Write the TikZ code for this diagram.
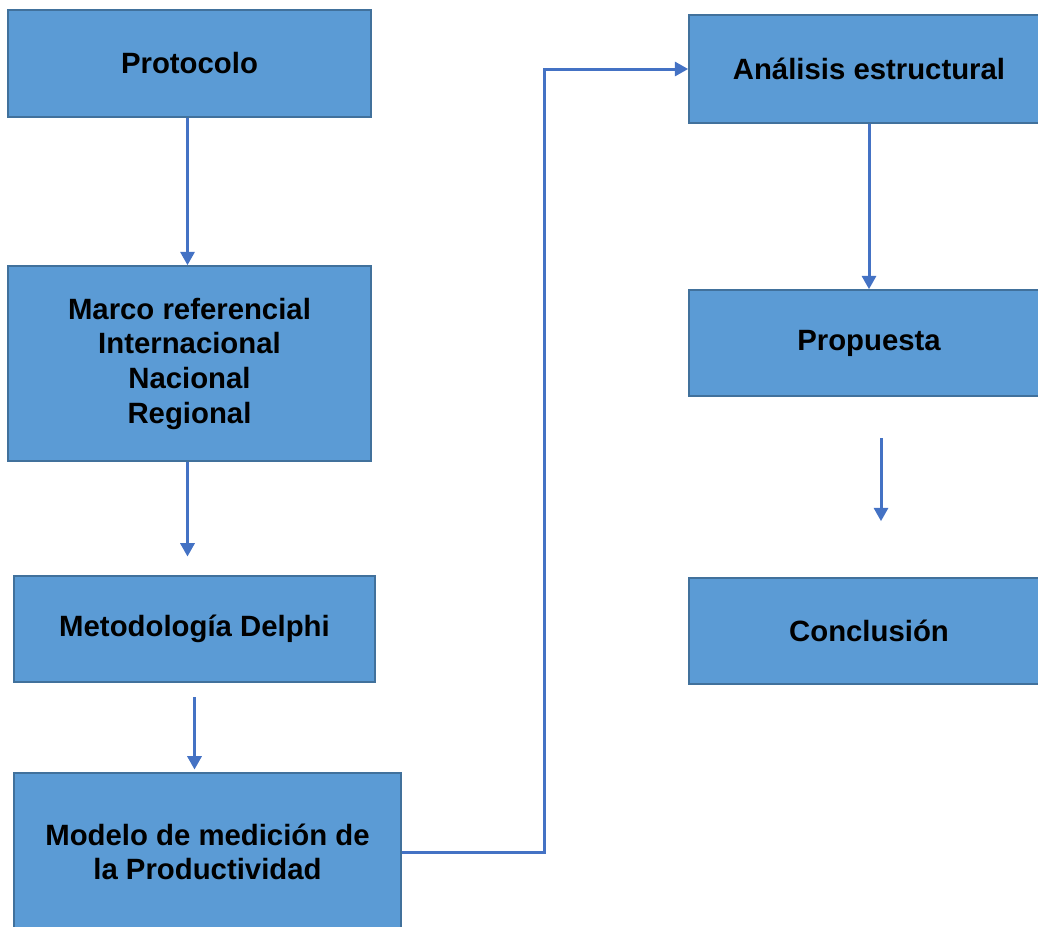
\documentclass[tikz,border=0pt]{standalone}
\usepackage{fontspec}
\setmainfont{Liberation Sans}
\usetikzlibrary{arrows.meta}
\definecolor{relleno}{HTML}{5B9BD5}
\definecolor{borde}{HTML}{41719C}
\definecolor{linea}{HTML}{4472C4}
\tikzset{
  caja/.style={rectangle,draw=borde,fill=relleno,line width=1.2pt,inner sep=0pt,
    align=center,font=\fontsize{22}{26}\selectfont\bfseries},
  flecha/.style={draw=linea,line width=2.25pt,-{Triangle[length=10pt,width=10.5pt]}}
}
\begin{document}
\begin{tikzpicture}[x=0.75pt,y=-0.75pt]
	\useasboundingbox (0,0) rectangle (1038,926);
	\clip (0,0) rectangle (1038,926);
	% columna izquierda
	\node (protocolo)[caja,minimum width=272.25pt,minimum height=80.25pt] at (189.5,63.5) {Protocolo};
	\node (marco)[caja,minimum width=272.25pt,minimum height=146.25pt] at (189.5,363.5) {Marco referencial\\Internacional\\Nacional\\Regional};
	\node (delphi)[caja,minimum width=270.75pt,minimum height=79.5pt] at (194.5,629) {Metodología Delphi};
	\node (modelo)[caja,minimum width=290.25pt,minimum height=118.5pt] at (207.5,852) {Modelo de medición de\\la Productividad};
	% columna derecha
	\node (analisis)[caja,minimum width=270pt,minimum height=81pt] at (869,69) {Análisis estructural};
	\node (propuesta)[caja,minimum width=270pt,minimum height=79.5pt] at (869,343) {Propuesta};
	\node (conclusion)[caja,minimum width=270pt,minimum height=79.5pt] at (869,631) {Conclusión};
	\coordinate (codo) at (544,852);

	\draw[flecha] ([xshift=-1.5pt]protocolo.south) -- ([xshift=-1.5pt]marco.north);
	\draw[flecha,shorten >=14pt] ([xshift=-1.5pt]marco.south) -- ([xshift=-1.5pt]marco.south |- delphi.north);
	\draw[flecha,shorten <=11pt,shorten >=2pt] (delphi.south) -- (delphi.south |- modelo.north);
	\draw[flecha] (modelo.east) -| (codo) |- (analisis.west);
	\draw[flecha] (analisis.south) -- (propuesta.north);
	\draw[flecha,shorten <=31pt,shorten >=42pt] ([xshift=9pt]propuesta.south) -- ([xshift=9pt]conclusion.north);
\end{tikzpicture}
\end{document}
